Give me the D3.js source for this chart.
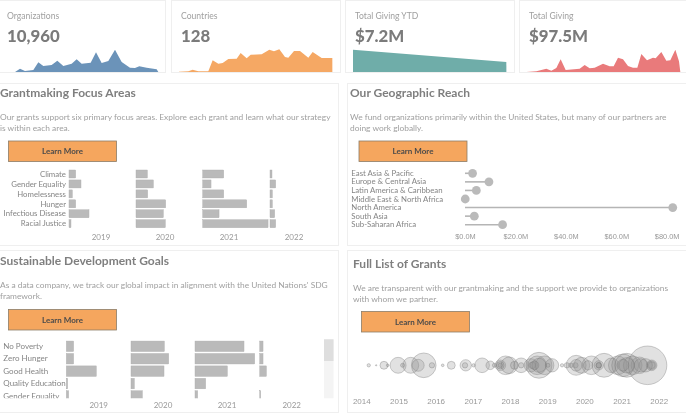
<!DOCTYPE html>
<html>
  <head>
    <meta charset="utf-8" />
    <title>Grantmaking dashboard</title>
    <script src="https://d3js.org/d3.v7.min.js"></script>
    <style>
      html, body { margin: 0; padding: 0; background: #fff; overflow: hidden; }
      svg { display: block; font-family: Lato, sans-serif; filter: blur(0.35px); }
      .tick text { fill: #999; }
    </style>
  </head>
  <body>
    <div id="figure"></div>
    <script>
      // sparkline readings: period position and height
      var orgPeriods = [45, 60, 75, 100, 115, 130, 155, 172, 190, 215, 230, 245, 272, 288, 305, 325, 345, 365, 390, 405, 418, 440, 470, 475];
      var orgValues = [0, 10, 3, 6, 29, 18, 21, 34, 18, 25, 38, 25, 28, 59, 27, 33, 67, 30, 13, 12, 17, 13, 8, 0];
      var countryPeriods = [537, 565, 578, 595, 625, 638, 655, 668, 685, 710, 722, 740, 752, 785, 808, 822, 838, 855, 865, 882, 900, 925, 938, 965, 997, 997.1];
      var countryValues = [1, 2, 7, 2, 2, 35, 25, 27, 39, 40, 57, 41, 52, 53, 67, 62, 68, 45, 43, 63, 63, 43, 60, 42, 42, 0];
      var ytdPeriods = [30, 490, 490.1];
      var ytdValues = [67, 30, 0];
      var givingPeriods = [550, 580, 610, 625, 640, 653, 668, 710, 725, 740, 755, 780, 800, 812, 825, 840, 855, 870, 883, 895, 912, 930, 938, 955, 970, 982, 997, 1008, 1012];
      var givingValues = [0, 2, 10, 4, 12, 38, 6, 10, 21, 11, 13, 25, 17, 17, 43, 38, 18, 13, 13, 54, 35, 43, 41, 60, 34, 35, 67, 32, 0];

      var kpiTitles = ["Organizations", "Countries", "Total Giving YTD", "Total Giving"];
      var kpiNumbers = ["10,960", "128", "$7.2M", "$97.5M"];
      var kpiColors = ["#6b93b9", "#f5a864", "#6fada9", "#e97a7b"];

      var years = [2019, 2020, 2021, 2022];

      var focusAreas = ["Climate", "Gender Equality", "Homelessness", "Hunger", "Infectious Disease", "Racial Justice"];
      var focus2019 = [1.0, 1.8, 0.5, 1.0, 3.0, 0.3];
      var focus2020 = [1.7, 2.6, 1.75, 4.45, 4.1, 4.4];
      var focus2021 = [3.15, 1.25, 3.15, 6.6, 2.45, 9.8];
      var focus2022 = [0.3, 0.85, 0.35, 0.35, 0.7, 0.85];

      var sdgGoals = ["No Poverty", "Zero Hunger", "Good Health", "Quality Education", "Gender Equality"];
      var sdg2019 = [1.1, 1.1, 4.5, 0.2, 0.35];
      var sdg2020 = [5.0, 5.65, 4.95, 0.5, 1.7];
      var sdg2021 = [7.35, 8.95, 4.85, 1.6, 0.4];
      var sdg2022 = [0.5, 0.5, 1.0, 0, 0.15];

      var regions = ["East Asia & Pacific", "Europe & Central Asia", "Latin America & Caribbean", "Middle East & North Africa", "North America", "South Asia", "Sub-Saharan Africa"];
      var regionGiving = [3.0, 9.5, 4.5, 0.1, 82.4, 3.7, 14.9];
      var regionTicks = [0, 20, 40, 60, 80];

      var grantYears = [2014.2, 2014.4, 2014.61, 2014.71, 2014.99, 2015.11, 2015.33, 2015.53, 2015.68, 2015.9, 2016.19, 2016.42, 2016.81, 2016.79, 2017.02, 2017.25, 2017.47, 2017.58, 2017.74, 2017.88, 2017.98, 2018.12, 2018.3, 2018.3, 2018.56, 2018.78, 2018.73, 2018.6, 2018.93, 2019.13, 2019.02, 2019.4, 2019.53, 2019.64, 2019.78, 2019.76, 2019.93, 2020.19, 2020.1, 2020.39, 2020.53, 2020.39, 2020.73, 2020.9, 2021.04, 2021.14, 2021.3, 2021.48, 2021.7, 2021.81, 2021.81, 2021.65, 2021.52, 2017.74, 2017.74, 2018.78, 2018.66, 2019.78, 2020.39, 2021.81, 2021.14, 2021.04];
      var grantAmounts = [0.09, 0.014, 0.51, 0.057, 2.05, 0.13, 2.05, 1.16, 4.9, 0.23, 0.057, 0.51, 1.03, 0.23, 0.09, 1.73, 0.6, 0.13, 0.91, 2.8, 2.23, 0.51, 1.73, 0.23, 1.43, 5.4, 2.8, 0.36, 2.8, 1.43, 0.13, 0.09, 0.23, 0.17, 3.2, 0.23, 2.05, 2.8, 0.7, 0.7, 4.6, 0.23, 1.73, 2.8, 4.1, 4.6, 2.8, 2.23, 12, 0.91, 0.36, 1.43, 1.43, 0.45, 0.15, 1.6, 0.6, 1.1, 0.25, 0.6, 1.9, 1.1];
      var grantTicks = [2014, 2015, 2016, 2017, 2018, 2019, 2020, 2021, 2022];

      var width = 686;
      var height = 413;
      var gray = "#858585";
      var lightText = "#a0a0a0";
      var barColor = "#bababa";

      var svg = d3
        .select("#figure")
        .append("svg")
        .attr("width", width)
        .attr("height", height);

      function card(x0, x1, y0, y1) {
        svg
          .append("rect")
          .attr("x", x0 + 0.5)
          .attr("y", y0 + 0.5)
          .attr("width", x1 - x0)
          .attr("height", y1 - y0)
          .attr("fill", "#fff")
          .attr("stroke", "#efefef");
      }

      // top row
      var kpis = [
        { box: [-2, 165], text: 7, t: orgPeriods, v: orgValues, left: 0 },
        { box: [171, 340], text: 181, t: countryPeriods, v: countryValues, left: 0 },
        { box: [345, 514], text: 355, t: ytdPeriods, v: ytdValues, left: 343 },
        { box: [519, 688], text: 529, t: givingPeriods, v: givingValues, left: 343 }
      ];
      var sparkY = d3.scaleLinear().domain([0, 72]).range([72, 48]);

      kpis.forEach(function (k, i) {
        card(k.box[0], k.box[1], 0, 72);
        svg
          .append("text")
          .attr("x", k.text)
          .attr("y", 18.5)
          .attr("font-size", 8.6)
          .attr("fill", "#a0a0a0")
          .text(kpiTitles[i]);
        svg
          .append("text")
          .attr("x", k.text)
          .attr("y", 41.5)
          .attr("font-size", 16.8)
          .attr("font-weight", 900)
          .attr("fill", "#7b7b7b")
          .text(kpiNumbers[i]);

        var extent = d3.extent(k.t);
        var sparkX = d3
          .scaleLinear()
          .domain(extent)
          .range([k.left + extent[0] / 3, k.left + extent[1] / 3]);
        var area = d3
          .area()
          .x(function (d) { return sparkX(d[0]); })
          .y0(sparkY(0))
          .y1(function (d) { return sparkY(d[1]); });
        svg
          .append("path")
          .attr("d", area(d3.zip(k.t, k.v)))
          .attr("fill", kpiColors[i]);
      });

      // panels
      card(-2, 338, 83, 245);
      card(347, 688, 83, 245);
      card(-2, 338, 250, 412);
      card(347, 688, 250, 412);

      function panelText(title, lines, x, titleY) {
        svg
          .append("text")
          .attr("x", x)
          .attr("y", titleY)
          .attr("font-size", 12)
          .attr("font-weight", 700)
          .attr("fill", "#7f7f7f")
          .text(title);
        lines.forEach(function (line, i) {
          svg
            .append("text")
            .attr("x", x)
            .attr("y", titleY + 22.5 + i * 11)
            .attr("font-size", 8.4)
            .attr("fill", lightText)
            .text(line);
        });
      }

      panelText(
        "Grantmaking Focus Areas",
        ["Our grants support six primary focus areas. Explore each grant and learn what our strategy", "is within each area."],
        0,
        97
      );
      panelText(
        "Our Geographic Reach",
        ["We fund organizations primarily within the United States, but many of our partners are", "doing work globally."],
        350,
        97
      );
      panelText(
        "Sustainable Development Goals",
        ["As a data company, we track our global impact in alignment with the United Nations' SDG", "framework."],
        0,
        265
      );
      panelText(
        "Full List of Grants",
        ["We are transparent with our grantmaking and the support we provide to organizations", "with whom we partner."],
        353,
        268
      );

      function button(x, y) {
        svg
          .append("rect")
          .attr("x", x)
          .attr("y", y)
          .attr("width", 108)
          .attr("height", 20.5)
          .attr("fill", "#f5a65e")
          .attr("stroke", "#8c7d68")
          .attr("stroke-width", 0.8);
        svg
          .append("text")
          .attr("x", x + 54)
          .attr("y", y + 13)
          .attr("text-anchor", "middle")
          .attr("font-size", 8)
          .attr("font-weight", 700)
          .attr("fill", "#4a4a4a")
          .text("Learn More");
      }
      button(8.5, 141);
      button(359, 141);
      button(8.5, 309.5);
      button(361.5, 311.5);

      // one column of bars per year
      var barX = d3.scaleLinear().domain([0, 10]).range([0, 66.7]);

      function barColumns(g, cats, series, starts, y, barHeight) {
        series.forEach(function (values, s) {
          g.selectAll(null)
            .data(values)
            .enter()
            .append("rect")
            .attr("x", starts[s])
            .attr("y", function (d, i) { return y(cats[i]) - barHeight / 2; })
            .attr("width", function (d) { return barX(d); })
            .attr("height", barHeight)
            .attr("fill", barColor)
            .attr("stroke", "#adadad")
            .attr("stroke-width", 0.4);
        });
      }

      function yearAxis(xs, y) {
        years.forEach(function (year, i) {
          svg
            .append("text")
            .attr("x", xs[i])
            .attr("y", y)
            .attr("text-anchor", "middle")
            .attr("font-size", 8)
            .attr("fill", "#999")
            .text(year);
        });
      }

      var focusY = d3.scalePoint().domain(focusAreas).range([174, 223.7]);
      var focusG = svg.append("g");
      barColumns(focusG, focusAreas, [focus2019, focus2020, focus2021, focus2022], [69, 136, 202.7, 270], focusY, 8);
      focusAreas.forEach(function (name) {
        focusG
          .append("text")
          .attr("x", 66)
          .attr("y", focusY(name) + 2.7)
          .attr("text-anchor", "end")
          .attr("font-size", 7.8)
          .attr("fill", gray)
          .text(name);
      });
      yearAxis([101, 165, 229, 294], 239.5);

      // sdg list is clipped by its scroll area
      svg
        .append("clipPath")
        .attr("id", "sdg-clip")
        .append("rect")
        .attr("x", 0)
        .attr("y", 339)
        .attr("width", 324)
        .attr("height", 59.3);
      var sdgY = d3.scalePoint().domain(sdgGoals).range([346.3, 396]);
      var sdgG = svg.append("g").attr("clip-path", "url(#sdg-clip)");
      barColumns(sdgG, sdgGoals, [sdg2019, sdg2020, sdg2021, sdg2022], [66.3, 131, 195, 259.7], sdgY, 10.5);
      sdgGoals.forEach(function (name) {
        sdgG
          .append("text")
          .attr("x", 3.3)
          .attr("y", sdgY(name) + 2.7)
          .attr("font-size", 8)
          .attr("fill", gray)
          .text(name);
      });
      yearAxis([98.7, 163, 227, 291.7], 407.5);
      svg.append("rect").attr("x", 324).attr("y", 339.3).attr("width", 9.5).attr("height", 59).attr("fill", "#f4f4f4");
      svg.append("rect").attr("x", 324).attr("y", 339.3).attr("width", 9.5).attr("height", 21.7).attr("fill", "#dedede");

      // lollipops
      var regionX = d3.scaleLinear().domain([0, 80]).range([465, 666.7]);
      var regionY = d3.scalePoint().domain(regions).range([173.3, 224.7]);
      var regionG = svg.append("g");
      regions.forEach(function (name, i) {
        regionG
          .append("text")
          .attr("x", 351.3)
          .attr("y", regionY(name) + 2.6)
          .attr("font-size", 7.8)
          .attr("fill", gray)
          .text(name);
        regionG
          .append("line")
          .attr("x1", regionX(0))
          .attr("x2", regionX(regionGiving[i]))
          .attr("y1", regionY(name))
          .attr("y2", regionY(name))
          .attr("stroke", "#b5b5b5")
          .attr("stroke-width", 1.6);
        regionG
          .append("circle")
          .attr("cx", regionX(regionGiving[i]))
          .attr("cy", regionY(name))
          .attr("r", 4.4)
          .attr("fill", barColor);
      });
      svg
        .append("g")
        .attr("transform", "translate(0,231)")
        .call(
          d3
            .axisBottom(regionX)
            .tickValues(regionTicks)
            .tickSize(0)
            .tickFormat(function (d) { return "$" + d.toFixed(1) + "M"; })
        )
        .call(function (g) {
          g.select(".domain").remove();
          g.selectAll("text").attr("font-size", 7.4).attr("font-family", "inherit");
        });

      // grant bubbles
      var grantX = d3.scaleLinear().domain([2014, 2022]).range([361.3, 658.7]);
      var grantR = d3.scaleSqrt().domain([0, 12]).range([0, 19.3]);
      svg
        .append("g")
        .selectAll("circle")
        .data(d3.zip(grantYears, grantAmounts))
        .enter()
        .append("circle")
        .attr("cx", function (d) { return grantX(d[0]); })
        .attr("cy", 365.3)
        .attr("r", function (d) { return grantR(d[1]); })
        .attr("fill", "#8f8f8f")
        .attr("fill-opacity", 0.27)
        .attr("stroke", "#777")
        .attr("stroke-opacity", 0.6)
        .attr("stroke-width", 0.6);
      svg
        .append("g")
        .attr("transform", "translate(0,395)")
        .call(
          d3
            .axisBottom(grantX)
            .tickValues(grantTicks)
            .tickSize(0)
            .tickFormat(d3.format("d"))
        )
        .call(function (g) {
          g.select(".domain").remove();
          g.selectAll("text").attr("font-size", 8).attr("font-family", "inherit");
        });
    </script>
  </body>
</html>
